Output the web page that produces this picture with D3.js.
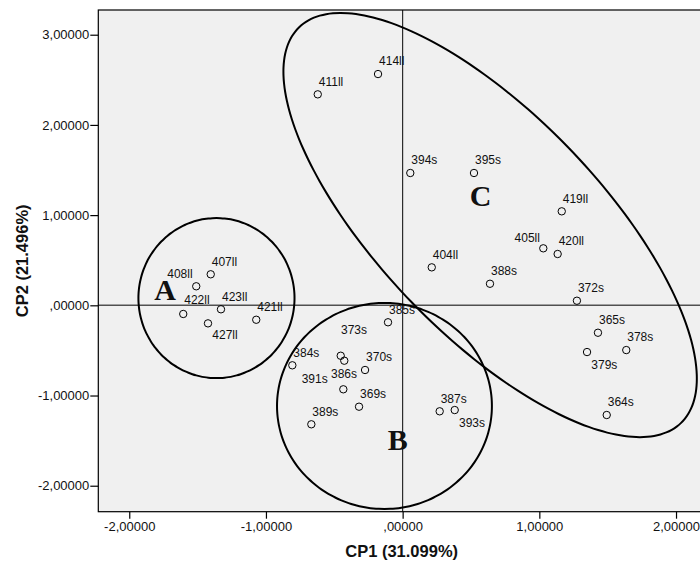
<!DOCTYPE html>
<html>
<head>
<meta charset="utf-8">
<script src="https://cdn.jsdelivr.net/npm/d3@7"></script>
<style>
  html, body { margin: 0; padding: 0; background: #fff; }
  svg { display: block; font-family: "Liberation Sans", Arial, sans-serif; }
</style>
</head>
<body>
<svg id="chart" width="700" height="564"></svg>
<script>
// PCA scores: sample names with CP1 / CP2 coordinates
const names = [
  "411ll", "414ll", "394s", "395s", "419ll", "405ll", "420ll", "404ll", "388s", "372s",
  "365s", "378s", "379s", "364s",
  "407ll", "408ll", "422ll", "423ll", "427ll", "421ll",
  "385s", "373s", "391s", "384s", "370s", "386s", "369s", "389s", "387s", "393s"
];
const cp1 = [
  -0.621, -0.180, 0.056, 0.522, 1.164, 1.029, 1.134, 0.213, 0.639, 1.275,
  1.429, 1.636, 1.349, 1.493,
  -1.404, -1.510, -1.605, -1.329, -1.424, -1.071,
  -0.107, -0.453, -0.427, -0.807, -0.275, -0.434, -0.319, -0.668, 0.271, 0.381
];
const cp2 = [
  2.339, 2.564, 1.467, 1.467, 1.042, 0.632, 0.569, 0.421, 0.239, 0.051,
  -0.304, -0.496, -0.518, -1.216,
  0.344, 0.211, -0.096, -0.044, -0.200, -0.160,
  -0.188, -0.559, -0.614, -0.665, -0.717, -0.931, -1.124, -1.319, -1.175, -1.161
];

// Axis ticks
const xTicks = [-2, -1, 0, 1, 2];
const xTickLabels = ["-2,00000", "-1,00000", ",00000", "1,00000", "2,00000"];
const yTicks = [-2, -1, 0, 1, 2, 3];
const yTickLabels = ["-2,00000", "-1,00000", ",00000", "1,00000", "2,00000", "3,00000"];

// Group outlines (centre and two conjugate semi-axis vectors, in score units)
const groupNames = ["A", "B", "C"];
const groupCentreX = [-1.362, -0.133, 0.640];
const groupCentreY = [0.080, -1.116, 0.890];
const groupAxis1 = [[0.571, 0], [0.786, 0], [1.397, -2.193]];
const groupAxis2 = [[0, 0.887], [0, 1.142], [-0.579, -0.848]];
const groupLetterX = [-1.738, -0.035, 0.571];
const groupLetterY = [0.180, -1.493, 1.223];

// Label nudges (pixels) for crowded points; others sit above-right
const labelNudge = {
  "408ll": [-29, -12.8], "427ll": [4.3, 11], "405ll": [-28.7, -10.7],
  "379s": [4.3, 12.3], "393s": [4.3, 12.3], "373s": [0.3, -25.7],
  "391s": [-42.6, 17.6], "386s": [-12.3, -16], "422ll": [1, -14]
};

const svg = d3.select("#chart");
const plotLeft = 98.3, plotRight = 705, plotTop = 10, plotBottom = 511.7;

const x = d3.scaleLinear().domain([-2.2265, 2.212]).range([plotLeft, plotRight]);
const y = d3.scaleLinear().domain([-2.288, 3.274]).range([plotBottom, plotTop]);

// Plot background
svg.append("rect")
  .attr("x", plotLeft).attr("y", plotTop)
  .attr("width", plotRight - plotLeft).attr("height", plotBottom - plotTop)
  .attr("fill", "#f0f0f0");

// Reference lines through the origin
svg.append("line")
  .attr("x1", plotLeft).attr("x2", plotRight)
  .attr("y1", y(0)).attr("y2", y(0))
  .attr("stroke", "#505050").attr("stroke-width", 1.6);
svg.append("line")
  .attr("x1", x(0)).attr("x2", x(0))
  .attr("y1", plotTop).attr("y2", plotBottom)
  .attr("stroke", "#1a1a1a").attr("stroke-width", 1.1);

// Axes
const xAxis = d3.axisBottom(x).tickValues(xTicks).tickSize(7).tickPadding(3)
  .tickFormat((d, i) => xTickLabels[i]);
const yAxis = d3.axisLeft(y).tickValues(yTicks).tickSize(8).tickPadding(1)
  .tickFormat((d, i) => yTickLabels[i]);

const gx = svg.append("g").attr("transform", `translate(0,${plotBottom})`).call(xAxis);
const gy = svg.append("g").attr("transform", `translate(${plotLeft},0)`).call(yAxis);
[gx, gy].forEach(g => {
  g.select(".domain").remove();
  g.selectAll(".tick line").attr("stroke", "#000").attr("stroke-width", 1.2);
  g.selectAll(".tick text")
    .attr("fill", "#111")
    .style("font-family", "'Liberation Sans', Arial, sans-serif")
    .style("font-size", "13px");
});

// Plot frame
svg.append("rect")
  .attr("x", plotLeft).attr("y", plotTop)
  .attr("width", plotRight - plotLeft).attr("height", plotBottom - plotTop)
  .attr("fill", "none").attr("stroke", "#000").attr("stroke-width", 1.2);

// Group outlines
const ellipsePath = i => {
  const pts = d3.range(0, 360, 3).map(deg => {
    const t = deg * Math.PI / 180;
    const vx = groupCentreX[i] + groupAxis1[i][0] * Math.cos(t) + groupAxis2[i][0] * Math.sin(t);
    const vy = groupCentreY[i] + groupAxis1[i][1] * Math.cos(t) + groupAxis2[i][1] * Math.sin(t);
    return [x(vx), y(vy)];
  });
  return d3.line().curve(d3.curveCardinalClosed)(pts);
};
svg.append("g").selectAll("path")
  .data(groupNames)
  .join("path")
  .attr("d", (d, i) => ellipsePath(i))
  .attr("fill", "none")
  .attr("stroke", "#000")
  .attr("stroke-width", 2);

// Group letters
svg.append("g").selectAll("text")
  .data(groupNames)
  .join("text")
  .attr("x", (d, i) => x(groupLetterX[i]))
  .attr("y", (d, i) => y(groupLetterY[i]))
  .attr("dy", "0.35em")
  .attr("text-anchor", "middle")
  .style("font-family", "'Liberation Serif', 'Times New Roman', serif")
  .style("font-weight", "bold")
  .style("font-size", "30px")
  .attr("fill", "#111")
  .text(d => d);

// Sample points
const pts = names.map((n, i) => ({ name: n, cx: x(cp1[i]), cy: y(cp2[i]) }));
svg.append("g").selectAll("circle")
  .data(pts)
  .join("circle")
  .attr("cx", d => d.cx)
  .attr("cy", d => d.cy)
  .attr("r", 3.7)
  .attr("fill", "none")
  .attr("stroke", "#000")
  .attr("stroke-width", 1);

svg.append("g").selectAll("text")
  .data(pts)
  .join("text")
  .attr("x", d => d.cx + (labelNudge[d.name] ? labelNudge[d.name][0] : 1))
  .attr("y", d => d.cy + (labelNudge[d.name] ? labelNudge[d.name][1] : -13) + 4.3)
  .style("font-size", "12px")
  .attr("fill", "#111")
  .text(d => d.name);

// Axis titles
svg.append("text")
  .attr("x", (plotLeft + plotRight) / 2).attr("y", 557)
  .attr("text-anchor", "middle")
  .style("font-weight", "bold").style("font-size", "16.5px")
  .attr("fill", "#111")
  .text("CP1 (31.099%)");
svg.append("text")
  .attr("transform", `translate(28,${(plotTop + plotBottom) / 2}) rotate(-90)`)
  .attr("text-anchor", "middle")
  .style("font-weight", "bold").style("font-size", "16.5px")
  .attr("fill", "#111")
  .text("CP2 (21.496%)");
</script>
</body>
</html>
